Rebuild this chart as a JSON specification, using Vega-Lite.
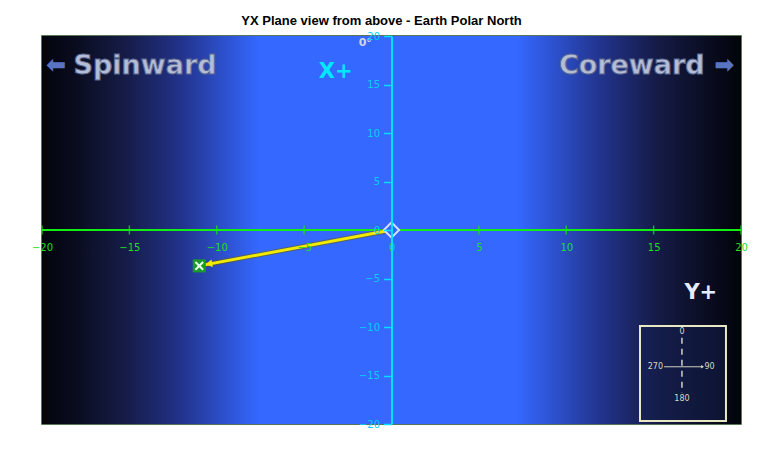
{
  "$schema": "https://vega.github.io/schema/vega-lite/v6.json",
  "width": 699,
  "height": 388,
  "autosize": {"type": "none"},
  "padding": {"left": 42, "top": 36, "right": 35, "bottom": 28},
  "background": "white",
  "title": {"text": "YX Plane view from above - Earth Polar North", "font": "Liberation Sans", "fontSize": 13, "fontWeight": "bold", "color": "#000000", "anchor": "middle", "offset": 3, "dx": -10},
  "config": {"view": {"stroke": "#1f4a1f", "strokeWidth": 1.5}},
  "datasets": {
    "one": [{"k": 1}],
    "ticks": [{"v": -20}, {"v": -15}, {"v": -10}, {"v": -5}, {"v": 0}, {"v": 5}, {"v": 10}, {"v": 15}, {"v": 20}],
    "path": [{"x": 0, "y": 0, "o": 0}, {"x": -11, "y": -3.7, "o": 1}],
    "inset": [{"x1": 14.22, "x2": 19.14, "y1": -9.9, "y2": -19.7}],
    "big": [
      {"x": -14.1, "y": 16.9, "t": "Spinward"},
      {"x": 13.75, "y": 16.9, "t": "Coreward"}
    ],
    "arrows": [
      {"x": -19.2, "y": 16.9, "t": "⬅"},
      {"x": 19.05, "y": 16.9, "t": "➡"}
    ],
    "axlabels": [
      {"x": -3.2, "y": 16.3, "t": "X+", "c": "#00e8ff"},
      {"x": 17.7, "y": -6.5, "t": "Y+", "c": "#e4ecff"}
    ],
    "compass": [
      {"x": 16.62, "y": -10.5, "t": "0"},
      {"x": 15.1, "y": -14.1, "t": "270"},
      {"x": 18.2, "y": -14.1, "t": "90"},
      {"x": 16.62, "y": -17.4, "t": "180"}
    ]
  },
  "layer": [
    {
      "data": {"name": "one"},
      "mark": {"type": "rect", "color": {"gradient": "linear", "x1": 0, "x2": 1, "y1": 0, "y2": 0, "stops": [
        {"offset": 0, "color": "#02040c"},
        {"offset": 0.05, "color": "#0a0d20"},
        {"offset": 0.12, "color": "#161c48"},
        {"offset": 0.2, "color": "#22338c"},
        {"offset": 0.26, "color": "#2d50cc"},
        {"offset": 0.31, "color": "#3468ff"},
        {"offset": 0.68, "color": "#3468ff"},
        {"offset": 0.73, "color": "#2d52d0"},
        {"offset": 0.8, "color": "#22338c"},
        {"offset": 0.88, "color": "#151b46"},
        {"offset": 0.95, "color": "#0a0d22"},
        {"offset": 1, "color": "#02040a"}
      ]}},
      "encoding": {
        "x": {"datum": -20, "type": "quantitative", "scale": {"domain": [-20, 20], "nice": false, "zero": false},
          "axis": {"orient": "bottom", "offset": -194, "title": null, "values": [-20, -15, -10, -5, 0, 5, 10, 15, 20], "domain": false, "ticks": false, "grid": false, "labelColor": "#22dd22", "labelFont": "DejaVu Sans", "labelFontSize": 10, "labelPadding": 12, "labelFlush": false, "labelOverlap": false, "zindex": 1}},
        "x2": {"datum": 20},
        "y": {"datum": -20, "type": "quantitative", "scale": {"domain": [-20, 20], "nice": false, "zero": false},
          "axis": {"orient": "left", "offset": -349.5, "title": null, "values": [-20, -15, -10, -5, 0, 5, 10, 15, 20], "domain": true, "domainColor": "#00e0ff", "domainWidth": 2, "ticks": true, "tickColor": "#00e0ff", "tickSize": 8, "tickWidth": 1.5, "grid": false, "labelColor": "#00d0ff", "labelFont": "DejaVu Sans", "labelFontSize": 10, "labelPadding": 4, "labelFlush": false, "labelOverlap": false, "zindex": 1}},
        "y2": {"datum": 20}
      }
    },
    {
      "data": {"name": "inset"},
      "mark": {"type": "rect", "fill": "#142050", "fillOpacity": 0.5, "stroke": "#e8e8c4", "strokeWidth": 2},
      "encoding": {"x": {"field": "x1", "type": "quantitative"}, "x2": {"field": "x2"}, "y": {"field": "y1", "type": "quantitative"}, "y2": {"field": "y2"}}
    },
    {
      "data": {"name": "one"},
      "mark": {"type": "rule", "color": "#11ee11", "strokeWidth": 2},
      "encoding": {"y": {"datum": 0, "type": "quantitative"}}
    },
    {
      "data": {"name": "ticks"},
      "mark": {"type": "tick", "orient": "vertical", "color": "#11ee11", "size": 9, "thickness": 1.5},
      "encoding": {"x": {"field": "v", "type": "quantitative"}, "y": {"datum": 0, "type": "quantitative"}}
    },
    {
      "data": {"name": "path"},
      "mark": {"type": "line", "color": "#6a6000", "strokeWidth": 5, "opacity": 0.6},
      "encoding": {"x": {"field": "x", "type": "quantitative"}, "y": {"field": "y", "type": "quantitative"}, "order": {"field": "o"}}
    },
    {
      "data": {"name": "path"},
      "mark": {"type": "line", "color": "#f2ea00", "strokeWidth": 3},
      "encoding": {"x": {"field": "x", "type": "quantitative"}, "y": {"field": "y", "type": "quantitative"}, "order": {"field": "o"}}
    },
    {
      "data": {"values": [{"x": -10.45, "y": -3.5}]},
      "mark": {"type": "point", "shape": "triangle-up", "filled": true, "color": "#f2ea00", "size": 60, "angle": 259, "opacity": 1},
      "encoding": {"x": {"field": "x", "type": "quantitative"}, "y": {"field": "y", "type": "quantitative"}}
    },
    {
      "data": {"values": [{"x": 0, "y": 0}]},
      "mark": {"type": "point", "shape": "diamond", "filled": true, "fill": "#3466ff", "stroke": "#d8e0ff", "strokeWidth": 2, "size": 230, "opacity": 1},
      "encoding": {"x": {"field": "x", "type": "quantitative"}, "y": {"field": "y", "type": "quantitative"}}
    },
    {
      "data": {"values": [{"x": -11, "y": -3.7}]},
      "mark": {"type": "point", "shape": "square", "filled": true, "color": "#1c9a28", "size": 170, "opacity": 1},
      "encoding": {"x": {"field": "x", "type": "quantitative"}, "y": {"field": "y", "type": "quantitative"}}
    },
    {
      "data": {"values": [{"x": -11, "y": -3.7}]},
      "mark": {"type": "point", "shape": "M-0.7,-0.7L0.7,0.7M0.7,-0.7L-0.7,0.7", "filled": false, "stroke": "#e8ffe8", "strokeWidth": 2, "size": 120, "opacity": 1},
      "encoding": {"x": {"field": "x", "type": "quantitative"}, "y": {"field": "y", "type": "quantitative"}}
    },
    {
      "data": {"name": "big"},
      "mark": {"type": "text", "font": "DejaVu Sans", "fontSize": 27, "fontWeight": "bold", "baseline": "middle", "align": "center", "color": "#b4bcd6", "stroke": "#5a6890", "strokeWidth": 1},
      "encoding": {"x": {"field": "x", "type": "quantitative"}, "y": {"field": "y", "type": "quantitative"}, "text": {"field": "t"}}
    },
    {
      "data": {"name": "arrows"},
      "mark": {"type": "text", "font": "DejaVu Sans", "fontSize": 24, "fontWeight": "bold", "baseline": "middle", "align": "center", "color": "#5a74c4"},
      "encoding": {"x": {"field": "x", "type": "quantitative"}, "y": {"field": "y", "type": "quantitative"}, "text": {"field": "t"}}
    },
    {
      "data": {"name": "axlabels"},
      "mark": {"type": "text", "font": "DejaVu Sans", "fontSize": 21, "fontWeight": "bold", "baseline": "middle", "align": "center"},
      "encoding": {"x": {"field": "x", "type": "quantitative"}, "y": {"field": "y", "type": "quantitative"}, "text": {"field": "t"}, "color": {"field": "c", "type": "nominal", "scale": null}}
    },
    {
      "data": {"values": [{"x": -1.5, "y": 19.3, "t": "0°"}]},
      "mark": {"type": "text", "font": "DejaVu Sans", "fontSize": 11, "fontWeight": "bold", "baseline": "middle", "align": "center", "color": "#d0d4e8"},
      "encoding": {"x": {"field": "x", "type": "quantitative"}, "y": {"field": "y", "type": "quantitative"}, "text": {"field": "t"}}
    },
    {
      "data": {"values": [{"x1": 15.6, "x2": 17.8, "y": -14.1}]},
      "mark": {"type": "rule", "color": "#d0d0c0", "strokeWidth": 1},
      "encoding": {"x": {"field": "x1", "type": "quantitative"}, "x2": {"field": "x2"}, "y": {"field": "y", "type": "quantitative"}}
    },
    {
      "data": {"values": [{"x": 17.8, "y": -14.1}]},
      "mark": {"type": "point", "shape": "triangle-right", "filled": true, "color": "#d0d0c0", "size": 12, "opacity": 1},
      "encoding": {"x": {"field": "x", "type": "quantitative"}, "y": {"field": "y", "type": "quantitative"}}
    },
    {
      "data": {"values": [{"x": 16.62, "y1": -11.1, "y2": -16.8}]},
      "mark": {"type": "rule", "color": "#d0d0c0", "strokeWidth": 1.5, "strokeDash": [6, 5]},
      "encoding": {"x": {"field": "x", "type": "quantitative"}, "y": {"field": "y1", "type": "quantitative"}, "y2": {"field": "y2"}}
    },
    {
      "data": {"name": "compass"},
      "mark": {"type": "text", "font": "DejaVu Sans", "fontSize": 8, "baseline": "middle", "align": "center", "color": "#d8d8c4"},
      "encoding": {"x": {"field": "x", "type": "quantitative"}, "y": {"field": "y", "type": "quantitative"}, "text": {"field": "t"}}
    }
  ]
}
